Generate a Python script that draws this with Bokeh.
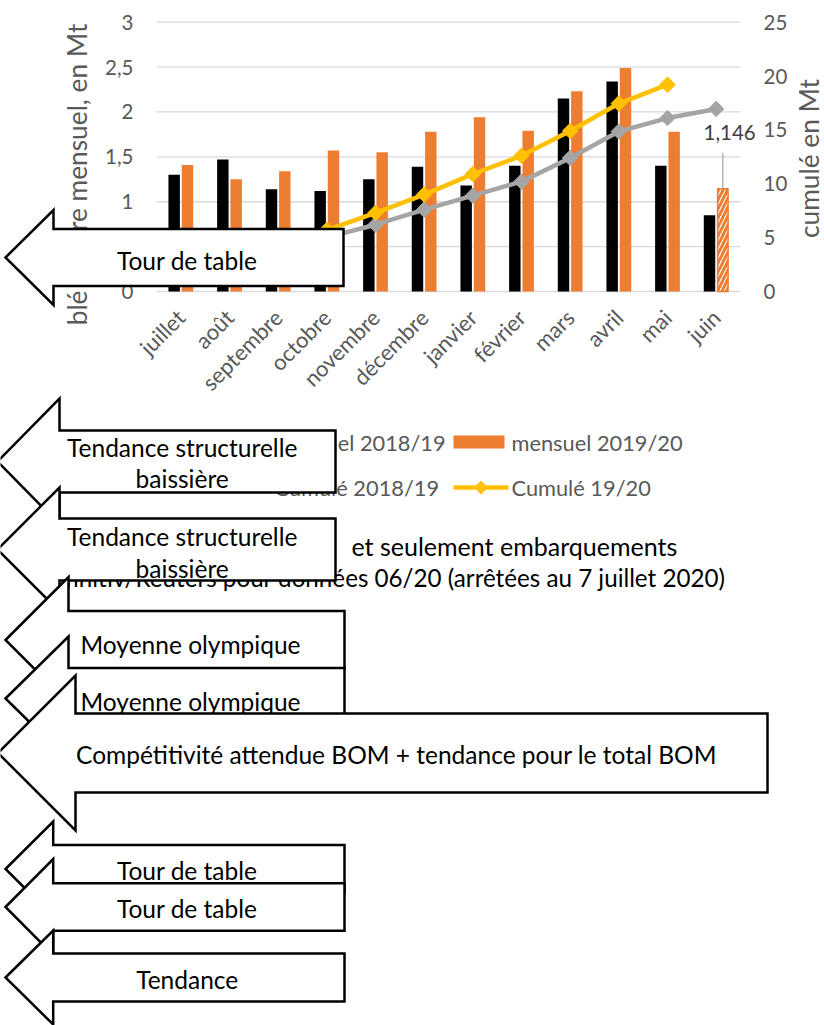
import math
from bokeh.plotting import figure
from bokeh.models import Range1d, LinearAxis, FixedTicker, CustomJSTickFormatter, ColumnDataSource
from bokeh.core.properties import value
from bokeh.transform import dodge
from bokeh.embed import file_html
from bokeh.resources import INLINE

# ---------------- data ----------------
months = ["juillet", "août", "septembre", "octobre", "novembre", "décembre",
          "janvier", "février", "mars", "avril", "mai", "juin"]
mensuel_1819 = [1.30, 1.47, 1.14, 1.12, 1.25, 1.39, 1.18, 1.40, 2.15, 2.34, 1.40, 0.85]
mensuel_1920 = [1.41, 1.25, 1.34, 1.57, 1.55, 1.78, 1.94, 1.79, 2.23, 2.49, 1.78, 1.146]
cumul_1819 = [1.30, 2.77, 3.91, 5.03, 6.2, 7.6, 8.9, 10.2, 12.4, 14.85, 16.1, 16.95]
cumul_1920 = [1.41, 2.66, 4.00, 5.7, 7.3, 9.0, 10.9, 12.6, 14.9, 17.45, 19.2]
left_ticks = [0, 0.5, 1, 1.5, 2, 2.5, 3]
right_ticks = [0, 5, 10, 15, 20, 25]
juin_label = "1,146"
left_title = "blé tendre mensuel, en Mt"
right_title = "cumulé en Mt"
legend_labels = ["mensuel 2018/19", "mensuel 2019/20", "Cumulé 2018/19", "Cumulé 19/20"]
note_lines = ["et seulement embarquements",
              "Refinitiv/Reuters pour données 06/20 (arrêtées au 7 juillet 2020)"]
arrow_texts = ["Tour de table",
               "Tendance structurelle\nbaissière",
               "Tendance structurelle\nbaissière",
               "Moyenne olympique",
               "Moyenne olympique",
               "Compétitivité attendue BOM + tendance pour le total BOM",
               "Tour de table",
               "Tour de table",
               "Tendance"]

# ---------------- style / layout ----------------
FONT = value("Lato")
TXT = "#595959"
BLACK, ORANGE, GREY, YELLOW = "#000000", "#ED7D31", "#A5A5A5", "#FFC000"
GRID = "#D9D9D9"

W, H = 824, 1025
PLOT_L, PLOT_R = 156, 740          # chart area (px)
Y_ZERO, Y_TOP = 291, 21.7          # px of value 0 and of the axis maximum
STEP = (PLOT_R - PLOT_L) / len(months)
X_FIRST = PLOT_L + STEP / 2
LEFT_MAX, RIGHT_MAX = 3, 25
px_left = (Y_ZERO - Y_TOP) / LEFT_MAX
px_right = (Y_ZERO - Y_TOP) / RIGHT_MAX

p = figure(width=W, height=H, output_backend="svg", toolbar_location=None,
           x_range=Range1d(0, W), y_range=Range1d(H, 0),
           x_axis_type=None, y_axis_type=None, min_border=0,
           outline_line_color=None, background_fill_color="white",
           border_fill_color="white")

p.extra_x_ranges = {"m": Range1d((0 - X_FIRST) / STEP, (W - X_FIRST) / STEP)}
p.extra_y_ranges = {
    "left": Range1d((Y_ZERO - H) / px_left, Y_ZERO / px_left),
    "right": Range1d((Y_ZERO - H) / px_right, Y_ZERO / px_right),
}

idx = list(range(len(months)))

# gridlines
p.segment(x0=-0.5, x1=len(months) - 0.5, y0=left_ticks, y1=left_ticks,
          x_range_name="m", y_range_name="left", line_color=GRID, line_width=1.3)

# bars
BW, DX = 0.235, 0.137
src_a = ColumnDataSource(dict(i=idx, v=mensuel_1819))
p.vbar(x=dodge("i", -DX), top="v", width=BW, source=src_a,
       x_range_name="m", y_range_name="left", fill_color=BLACK, line_color=None)
n_full = len(mensuel_1920) - 1
src_b = ColumnDataSource(dict(i=idx[:n_full], v=mensuel_1920[:n_full]))
p.vbar(x=dodge("i", DX), top="v", width=BW, source=src_b,
       x_range_name="m", y_range_name="left", fill_color=ORANGE, line_color=None)
src_h = ColumnDataSource(dict(i=idx[n_full:], v=mensuel_1920[n_full:]))
p.vbar(x=dodge("i", DX), top="v", width=BW - 0.02, source=src_h,
       x_range_name="m", y_range_name="left", fill_color="white",
       line_color=ORANGE, line_width=1.5, hatch_pattern="/",
       hatch_color=ORANGE, hatch_weight=3, hatch_scale=9)

# data label for juin with leader line
jx = idx[-1] + DX
jv = mensuel_1920[-1]
p.segment(x0=[jx], x1=[jx], y0=[jv], y1=[jv + 0.40], x_range_name="m",
          y_range_name="left", line_color=GREY, line_width=1.2)
p.text(x=[jx + 0.14], y=[jv + 0.62], text=[juin_label], x_range_name="m",
       y_range_name="left", text_font=FONT, text_font_size=value("20.5px"),
       text_color="#404040", text_align="center", text_baseline="middle")

# cumulative lines
src_c1 = ColumnDataSource(dict(i=idx, v=cumul_1819))
src_c2 = ColumnDataSource(dict(i=idx[:len(cumul_1920)], v=cumul_1920))
for s, col in ((src_c1, GREY), (src_c2, YELLOW)):
    p.line(x="i", y="v", source=s, x_range_name="m", y_range_name="right",
           line_color=col, line_width=4.5)
    p.scatter(x="i", y="v", source=s, x_range_name="m", y_range_name="right",
              marker="square", angle=math.pi / 4, size=11, fill_color=col,
              line_color=col)

# axes
fmt_comma = CustomJSTickFormatter(code="return tick.toString().replace('.', ',')")
ya = LinearAxis(y_range_name="left", fixed_location=PLOT_L,
                ticker=FixedTicker(ticks=left_ticks), formatter=fmt_comma)
yb = LinearAxis(y_range_name="right", fixed_location=PLOT_R,
                ticker=FixedTicker(ticks=right_ticks))
xa = LinearAxis(x_range_name="m", fixed_location=Y_ZERO,
                ticker=FixedTicker(ticks=idx),
                formatter=CustomJSTickFormatter(args=dict(names=months),
                                                code="return names[Math.round(tick)]"),
                major_label_orientation=math.pi / 4)
for ax, standoff, fs in ((ya, 23, "20.5px"), (yb, 23, "20.5px"), (xa, 22, "22px")):
    ax.axis_line_color = None
    ax.major_tick_line_color = None
    ax.minor_tick_line_color = None
    ax.major_tick_out = 0
    ax.major_tick_in = 0
    ax.major_label_standoff = standoff
    ax.major_label_text_font = "Lato"
    ax.major_label_text_font_size = fs
    ax.major_label_text_color = TXT
    ax.level = "underlay"
p.add_layout(ya, "left")
p.add_layout(yb, "right")
p.add_layout(xa, "below")

# axis titles
p.text(x=[76], y=[174], text=[left_title], angle=math.pi / 2, text_font=FONT,
       text_font_size=value("26.3px"), text_color=TXT, text_align="center",
       text_baseline="alphabetic")
p.text(x=[808.5], y=[158], text=[right_title], angle=math.pi / 2, text_font=FONT,
       text_font_size=value("26.3px"), text_color=TXT, text_align="center",
       text_baseline="alphabetic")

# legend (drawn by hand, two columns)
COL1, COL2 = 216, 453
ROW1, ROW2 = 441.5, 487
p.rect(x=[COL1 + 25.5, COL2 + 25.5], y=[ROW1, ROW1], width=51, height=13,
       fill_color=[BLACK, ORANGE], line_color=None)
for cx, col in ((COL1, GREY), (COL2, YELLOW)):
    p.line(x=[cx, cx + 55], y=[ROW2, ROW2], line_color=col, line_width=4.5)
    p.scatter(x=[cx + 27.5], y=[ROW2], marker="square", angle=math.pi / 4,
              size=9, fill_color=col, line_color=col)
p.text(x=[COL1 + 58, COL2 + 58, COL1 + 58, COL2 + 58], y=[ROW1, ROW1, ROW2, ROW2],
       text=legend_labels, text_font=FONT, text_font_size=value("21.8px"),
       text_color=TXT, text_align="left", text_baseline="middle")

# note under the legend
p.text(x=[351], y=[545], text=[note_lines[0]], text_font=FONT,
       text_font_size=value("25px"), text_color="black", text_align="left",
       text_baseline="middle")
p.text(x=[725], y=[577], text=[note_lines[1]], text_font=FONT,
       text_font_size=value("24.2px"), text_color="black", text_align="right",
       text_baseline="middle")

# block arrows pointing left, stacked in drawing order
# (tip_x, head_back_x, right_x, y_center, head_half, body_half, text_x, text_y)
arrow_shapes = [
    (5, 53, 343, 257, 47.5, 28.5, 186.7, 260),
    (-3, 59, 335, 461, 63, 31, 181.7, 462.5),
    (-3, 59, 335, 549, 62, 31, 181.7, 552),
    (5, 68, 344, 639.5, 63, 29, 190, 643.5),
    (5, 68, 344, 698, 62, 30.5, 190, 700.5),
    (-2.5, 75, 767, 752.5, 77.5, 39.5, 396, 753.5),
    (5, 52.7, 344, 868.5, 47.5, 24, 186.7, 870),
    (5, 52.7, 344, 906.5, 48, 23.8, 186.7, 907.5),
    (5, 52.7, 344, 977, 47, 24, 186.7, 978.5),
]
for (tx, bx, rx, yc, hh, bh, lx, ly), label in zip(arrow_shapes, arrow_texts):
    xs = [tx, bx, bx, rx, rx, bx, bx]
    ys = [yc, yc - hh, yc - bh, yc - bh, yc + bh, yc + bh, yc + hh]
    p.patch(x=xs, y=ys, fill_color="white", line_color="black", line_width=2.5,
            line_join="miter")
    p.text(x=[lx], y=[ly], text=[label], text_font=FONT,
           text_font_size=value("24.5px"), text_color="black", text_align="center",
           text_baseline="middle", text_line_height=1.1)

open("out.html", "w").write(file_html(p, INLINE))
